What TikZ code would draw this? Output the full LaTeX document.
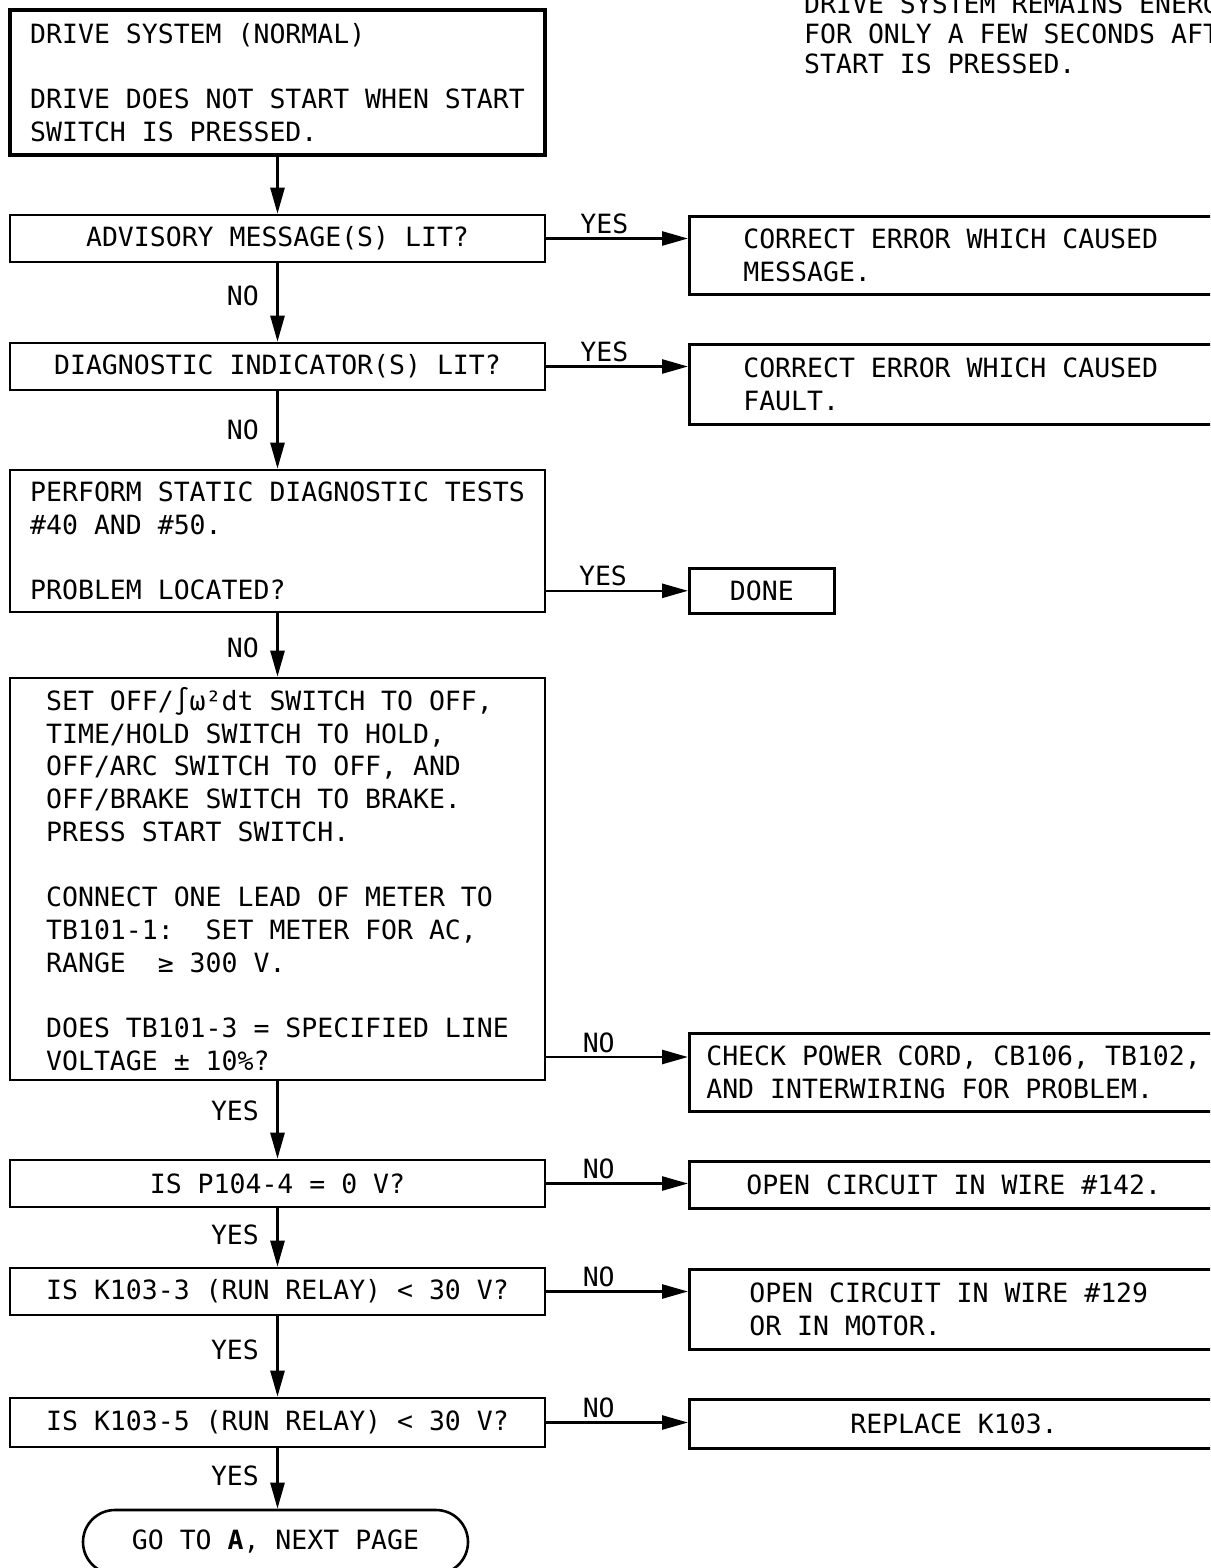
\documentclass[tikz,border=0pt]{standalone}
\usepackage{fontspec}
\usepackage{tikz}
\usetikzlibrary{arrows.meta}
\newfontfamily\flowtt{DejaVu Sans Mono}

\begin{document}
\begin{tikzpicture}[
    x=1pt,y=-1pt,
    font=\flowtt\fontsize{26.5pt}{32.7pt}\selectfont,
    qbox/.style={draw,line width=2.6pt,minimum width=535pt,minimum height=47pt,
      inner ysep=0pt,align=center},
    stepbox/.style={draw,line width=2.6pt,minimum width=535pt,inner ysep=0pt,
      align=left},
    fixbox/.style={draw,line width=2.6pt,anchor=north west,inner ysep=0pt,
      text width=470pt,align=left,
      execute at begin node={\spaceskip=15.95pt\xspaceskip=15.95pt\relax}},
    flow/.style={line width=2.6pt,-{Triangle[length=26pt,width=14pt]}},
  ]
    \useasboundingbox (0,0) rectangle (1210,1568);
    \clip (0,0) rectangle (1210,1568);

    % main column
    \node[stepbox,line width=4.5pt,minimum height=145pt] (start) at (277.5,82.5)
      {DRIVE SYSTEM (NORMAL)\\[32.7pt]DRIVE DOES NOT START WHEN START\\SWITCH IS PRESSED.};
    \node[qbox] (advisory) at (277.5,238.5) {ADVISORY MESSAGE(S) LIT?};
    \node[qbox] (diagnostic) at (277.5,366.5) {DIAGNOSTIC INDICATOR(S) LIT?};
    \node[stepbox,minimum height=142pt] (static) at (277.5,541)
      {PERFORM STATIC DIAGNOSTIC TESTS\\\#40 AND \#50.\\[32.7pt]PROBLEM LOCATED?};
    \node[stepbox,minimum height=402pt] (setup) at (277.5,879)
      {SET OFF/∫ω²dt SWITCH TO OFF,\\TIME/HOLD SWITCH TO HOLD,\\
       OFF/ARC SWITCH TO OFF, AND\\OFF/BRAKE SWITCH TO BRAKE.\\
       PRESS START SWITCH.\\[32.7pt]
       CONNECT ONE LEAD OF METER TO\\TB101-1:\ \ SET METER FOR AC,\\
       RANGE\ \ ≥ 300 V.\\[32.7pt]
       DOES TB101-3 = SPECIFIED LINE\\VOLTAGE ± 10\%?};
    \node[qbox] (pzero) at (277.5,1183.5) {IS P104-4 = 0 V?};
    \node[qbox] (krunA) at (277.5,1291.5) {IS K103-3 (RUN RELAY) < 30 V?};
    \node[qbox,minimum height=49pt] (krunB) at (277.5,1422.5) {IS K103-5 (RUN RELAY) < 30 V?};
    \node[draw,line width=2.6pt,rounded corners=32pt,minimum width=385pt,
      minimum height=64pt] (goto) at (275.5,1542) {GO TO \textbf{A}, NEXT PAGE};

    % right column
    \node[anchor=north west,inner sep=0pt,align=left,
      font=\flowtt\fontsize{26.5pt}{30pt}\selectfont] (note) at (804,-6)
      {DRIVE SYSTEM REMAINS ENERGIZED\\FOR ONLY A FEW SECONDS AFTER\\START IS PRESSED.};
    \node[fixbox,inner xsep=54pt,minimum height=78pt] (message) at (688,215)
      {CORRECT ERROR WHICH CAUSED\\MESSAGE.};
    \node[fixbox,inner xsep=54pt,minimum height=80pt] (fault) at (688,343)
      {CORRECT ERROR WHICH CAUSED\\FAULT.};
    \node[draw,line width=2.6pt,anchor=north west,minimum width=145pt,
      minimum height=45pt] (done) at (688,567) {DONE};
    \node[fixbox,text width=520pt,inner xsep=17pt,minimum height=78pt] (cord) at (688,1032)
      {CHECK POWER CORD, CB106, TB102,\\AND INTERWIRING FOR PROBLEM.};
    \node[fixbox,inner xsep=57pt,minimum height=47pt] (wireA) at (688,1160)
      {OPEN CIRCUIT IN WIRE \#142.};
    \node[fixbox,inner xsep=60pt,minimum height=80pt] (wireB) at (688,1268)
      {OPEN CIRCUIT IN WIRE \#129\\OR IN MOTOR.};
    \node[fixbox,inner xsep=161pt,minimum height=49pt] (relay) at (688,1398)
      {REPLACE K103.};

    % connectors
    \coordinate (volt) at (600,1057);
    \draw[flow] (start) -- (advisory);
    \draw[flow] (advisory) -- node[left=14pt,pos=0.42] {NO} (diagnostic);
    \draw[flow] (diagnostic) -- node[left=14pt,pos=0.5] {NO} (static);
    \draw[flow] (static) -- node[left=14pt,pos=0.55] {NO} (setup);
    \draw[flow] (setup) -- node[left=14pt,pos=0.38] {YES} (pzero);
    \draw[flow] (pzero) -- node[left=14pt,pos=0.46] {YES} (krunA);
    \draw[flow] (krunA) -- node[left=14pt,pos=0.42] {YES} (krunB);
    \draw[flow] (krunB.south) -- node[left=14pt,pos=0.46] {YES} (krunB.south |- goto.north);

    \draw[flow] (advisory.east) -- node[above,pos=0.41] {YES} (advisory.east -| message.west);
    \draw[flow] (diagnostic.east) -- node[above,pos=0.41] {YES} (diagnostic.east -| fault.west);
    \draw[flow] (static.east |- done.west) -- node[above,pos=0.4] {YES} (done.west);
    \draw[flow] (setup.east |- volt) -- node[above,pos=0.37] {NO} (cord.west |- volt);
    \draw[flow] (pzero.east) -- node[above,pos=0.37] {NO} (pzero.east -| wireA.west);
    \draw[flow] (krunA.east) -- node[above,pos=0.37] {NO} (krunA.east -| wireB.west);
    \draw[flow] (krunB.east) -- node[above,pos=0.37] {NO} (krunB.east -| relay.west);
\end{tikzpicture}
\end{document}
